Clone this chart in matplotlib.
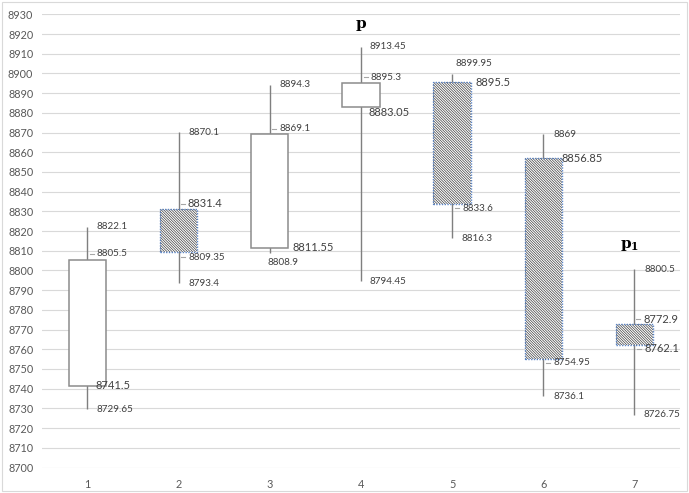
import matplotlib
matplotlib.use("Agg")
import matplotlib.pyplot as plt
from matplotlib.patches import Rectangle
from matplotlib.transforms import offset_copy

categories = [1, 2, 3, 4, 5, 6, 7]
open_ = [8741.5, 8831.4, 8811.55, 8883.05, 8895.5, 8856.85, 8772.9]
high = [8822.1, 8870.1, 8894.3, 8913.45, 8899.95, 8869.0, 8800.5]
low = [8729.65, 8793.4, 8808.9, 8794.45, 8816.3, 8736.1, 8726.75]
close = [8805.5, 8809.35, 8869.1, 8895.3, 8833.6, 8754.95, 8762.1]
y_ticks = list(range(8700, 8931, 10))
high_label_texts = ["8822.1", "8870.1", "8894.3", "8913.45", "8899.95", "8869", "8800.5"]
low_label_texts = ["8729.65", "8793.4", "8808.9", "8794.45", "8816.3", "8736.1", "8726.75"]
open_label_texts = ["8741.5", "8831.4", "8811.55", "8883.05", "8895.5", "8856.85", "8772.9"]
close_label_texts = ["8805.5", "8809.35", "8869.1", "8895.3", "8833.6", "8754.95", "8762.1"]
annot_texts = {4: r"$\mathbf{p}$", 7: r"$\mathbf{p}_{\mathbf{1}}$"}

plt.rcParams['font.family'] = ['Lato', 'DejaVu Sans']
plt.rcParams['hatch.linewidth'] = 0.5
plt.rcParams['mathtext.fontset'] = 'dejavuserif'

fig = plt.figure(figsize=(6.89, 4.93), dpi=100)
ax = fig.add_axes([41.7 / 689, 1 - 467.5 / 493, (680.1 - 41.7) / 689, (467.5 - 14.3) / 493])

# frame around the whole chart
fig.patches.append(Rectangle((2 / 689, 2 / 493), 685 / 689, 489 / 493, transform=fig.transFigure,
                             fill=False, edgecolor='#d9d9d9', linewidth=0.8))

ax.set_xlim(0.5, 7.5)
ax.set_ylim(8700, 8930)
ax.set_yticks(y_ticks)
ax.set_xticks(categories)
ax.yaxis.grid(True, color='#d9d9d9', linewidth=0.8)
ax.set_axisbelow(True)
for s in ax.spines.values():
    s.set_visible(False)
ax.tick_params(axis='both', length=0, labelsize=7.8, colors='#595959')
ax.tick_params(axis='y', pad=6)
ax.tick_params(axis='x', pad=8)

w = 0.41
gray = '#7f7f7f'
blue = '#5b84c4'
for x, o, h, l, c in zip(categories, open_, high, low, close):
    ax.vlines(x, l, h, color=gray, linewidth=1.0, zorder=2)
    bottom = min(o, c)
    height = abs(c - o)
    if c >= o:
        ax.add_patch(Rectangle((x - w / 2, bottom), w, height, facecolor='white',
                               edgecolor='#8c8c8c', linewidth=1.1, zorder=3))
    else:
        ax.add_patch(Rectangle((x - w / 2, bottom), w, height, facecolor='white',
                               edgecolor='#404040', hatch='\\' * 13, linewidth=0, zorder=3))
        ax.add_patch(Rectangle((x - w / 2, bottom), w, height, fill=False,
                               edgecolor=blue, linewidth=1.0, linestyle=(0, (1, 1)), zorder=4))

# label offsets (pixels) relative to the wick: (dx, dy, large_font, leader)
offsets = {
    'high': [(9.4, 0, False, False), (9.6, 0, False, False), (9.7, 0, False, False), (9.0, 0, False, False),
             (3.0, 9.6, False, False), (10.0, 0, False, False), (10.0, 0, False, False)],
    'low': [(9.4, 0, False, False), (9.6, 0, False, False), (-2.6, -9.2, False, False), (9.0, 0, False, False),
            (9.7, 0, False, False), (10.0, 0, False, False), (9.0, 0, False, False)],
    'open': [(8.7, 0.5, True, False), (9.0, 4.7, True, True), (22.4, 0, True, False), (7.3, -5.4, True, False),
             (23.0, 0, True, False), (18.0, 0, True, False), (9.0, 4.7, True, True)],
    'close': [(9.4, 5.7, False, True), (9.6, -5.4, False, True), (9.7, 5.7, False, True), (9.7, 5.5, False, True),
              (10.3, -3.9, False, True), (10.0, -3.3, False, True), (10.0, -3.7, True, True)],
}
series = {'high': (high, high_label_texts), 'low': (low, low_label_texts),
          'open': (open_, open_label_texts), 'close': (close, close_label_texts)}

inv = fig.transFigure.inverted()
for key, (vals, texts) in series.items():
    for i, (x, v, t) in enumerate(zip(categories, vals, texts)):
        dx, dy, big, leader = offsets[key][i]
        ax.annotate(t, xy=(x, v), xytext=(dx, dy), textcoords='offset pixels',
                    ha='left', va='center', fontsize=8.0 if big else 7.1, color='#404040', zorder=6)
        if leader:
            tr = offset_copy(ax.transData, fig=fig, x=dx - 7, y=dy, units='dots')
            tr2 = offset_copy(ax.transData, fig=fig, x=dx - 3, y=dy, units='dots')
            a = inv.transform(tr.transform((x, v)))
            b = inv.transform(tr2.transform((x, v)))
            fig.add_artist(plt.Line2D([a[0], b[0]], [a[1], b[1]], transform=fig.transFigure,
                                      color='#a6a6a6', linewidth=0.8, zorder=5))

for i, t in annot_texts.items():
    idx = categories.index(i)
    ax.annotate(t, xy=(i, high[idx]), xytext=(-5 if i == 7 else 0, 21 if i == 4 else 24),
                textcoords='offset pixels', ha='center', va='center', fontsize=11,
                color='#000000')

fig.savefig('out.png', dpi=100)
